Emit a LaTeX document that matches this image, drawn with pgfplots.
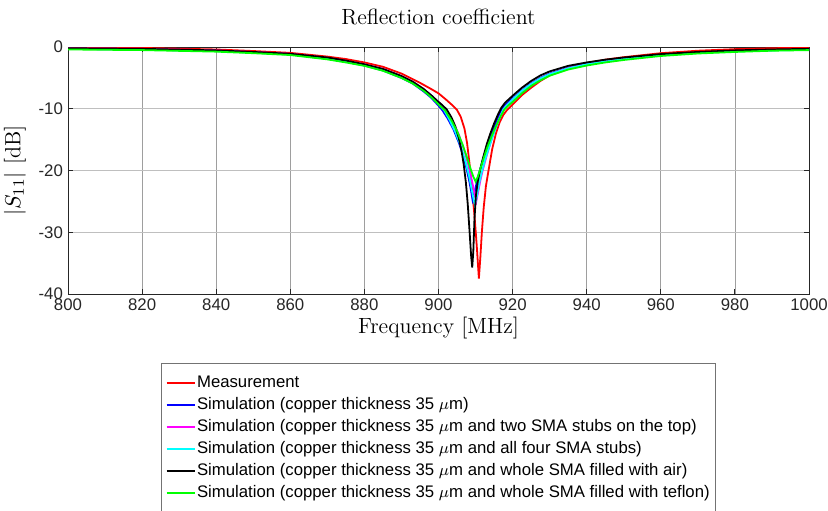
\documentclass[border=0pt]{standalone}
\usepackage{fontspec}
\usepackage{pgfplots}
\pgfplotsset{compat=1.18}
\newfontfamily\arial{Liberation Sans}
\definecolor{axgray}{RGB}{38,38,38}
\begin{document}
\begin{tikzpicture}
\begin{axis}[
  at={(0,0)}, anchor=south west,
  scale only axis, width=370.5pt, height=123.5pt,
  xmin=800, xmax=1000, ymin=-40, ymax=0,
  xtick={800,820,840,860,880,900,920,940,960,980,1000},
  ytick={-40,-30,-20,-10,0},
  xticklabels={800,820,840,860,880,900,920,940,960,980,1000},
  yticklabels={-40,-30,-20,-10,0},
  ticklabel style={font=\arial\fontsize{8.4}{10}\selectfont, text=axgray},
  xticklabel style={yshift=1pt},
  yticklabel style={xshift=1pt},
  axis line style={draw=axgray, line width=0.5pt},
  tick style={draw=axgray, line width=0.5pt},
  tick align=inside, major tick length=2.5pt,
  xmajorgrids, ymajorgrids,
  x grid style={black!38, line width=0.4pt},
  y grid style={black!25, line width=0.4pt},
  title={Reflection coefficient},
  title style={font=\fontsize{11}{13}\selectfont, at={(axis description cs:0.5,1)}, anchor=base, yshift=5.5pt},
  xlabel={Frequency $[\mathrm{MHz}]$},
  xlabel style={font=\fontsize{11}{13}\selectfont, at={(axis description cs:0.5,0)}, anchor=base, yshift=-19.5pt},
  ylabel={$|S_{11}|$ $[\mathrm{dB}]$},
  ylabel style={font=\fontsize{11}{13}\selectfont, at={(axis description cs:-0.0715,0.5)}, anchor=center},
  legend style={at={(axis description cs:0.5,-0.2794)}, anchor=north,
    draw=black!55, line width=0.5pt, fill=white,
    font=\arial\fontsize{8.37}{10}\selectfont,
    inner xsep=1.9pt, inner ysep=4.3pt, row sep=0pt,
    nodes={inner xsep=0.75pt, inner ysep=1.6pt, text height=6.1pt, text depth=1.7pt}},
  legend cell align=left,
  legend image code/.code={\draw[#1, line width=0.9pt] (0pt,0pt) -- (14pt,0pt);},
  every axis plot/.append style={line width=0.9pt},
]
% Measurement
\addplot[color={rgb,255:red,255;green,0;blue,0}] coordinates {
(800,-0.05) (820,-0.15) (840,-0.4) (850,-0.65) (860,-0.95) (870,-1.55) (875,-1.95) (880,-2.5) (885,-3.2) (890,-4.3) (895,-5.8) (898,-6.8) (900,-7.5) (902,-8.5) (903.5,-9.3) (905,-10.2) (906,-11.3) (907,-13.2) (907.7,-15.5) (908.3,-18.5) (908.8,-21.5) (909.3,-24.5) (909.8,-28) (910.3,-32) (910.9,-37.5) (911.3,-34) (911.7,-30) (912.2,-26) (912.8,-22.5) (913.5,-20) (914.5,-16.5) (915.5,-14) (916.5,-12.2) (917.5,-11.0) (918.5,-10.2) (920,-9.3) (922.5,-7.8) (925,-6.6) (927.5,-5.5) (930,-4.6) (935,-3.4) (940,-2.6) (945,-2.05) (950,-1.65) (960,-1.0) (970,-0.6) (980,-0.35) (990,-0.2) (1000,-0.1)
};
\addlegendentry{Measurement}
% Simulation 35 um
\addplot[color={rgb,255:red,0;green,0;blue,255}] coordinates {
(800,-0.3) (820,-0.4) (840,-0.65) (850,-0.9) (860,-1.2) (870,-1.9) (875,-2.4) (880,-3.0) (885,-3.8) (890,-5.0) (893,-5.9) (896,-7.2) (898,-8.2) (900,-9.5) (901,-10.2) (902.5,-11.6) (904,-13.3) (905.5,-15.5) (906.5,-17.3) (907.5,-19.5) (908.3,-21.7) (908.8,-23.3) (909.2,-24.8) (909.7,-23.6) (910.3,-22.0) (911,-20.3) (912,-18.2) (913,-16.3) (914,-14.6) (915,-13.0) (916,-11.5) (917,-10.2) (918,-9.4) (920,-8.3) (922.5,-7.0) (925,-5.9) (927.5,-5.0) (930,-4.3) (935,-3.35) (940,-2.75) (945,-2.25) (950,-1.9) (960,-1.3) (970,-0.9) (980,-0.65) (990,-0.5) (1000,-0.4)
};
\addlegendentry{Simulation (copper thickness 35 $\mu$m)}
% two SMA stubs
\addplot[color={rgb,255:red,255;green,0;blue,255}] coordinates {
(800,-0.2) (820,-0.3) (840,-0.55) (850,-0.8) (860,-1.1) (870,-1.75) (875,-2.25) (880,-2.8) (885,-3.55) (890,-4.7) (893,-5.6) (896,-6.8) (898,-7.8) (900,-8.9) (902.3,-10.3) (904,-12.2) (905.5,-14.2) (907,-16.8) (908,-19.0) (909,-21.6) (909.7,-23.6) (910.2,-25.0) (910.7,-23.5) (911.3,-21.6) (912,-19.8) (913,-17.6) (914,-15.6) (915,-13.8) (916,-12.2) (917,-10.8) (918,-9.7) (920,-8.5) (922.5,-7.1) (925,-6.0) (927.5,-5.1) (930,-4.4) (935,-3.4) (940,-2.8) (945,-2.3) (950,-1.9) (960,-1.3) (970,-0.9) (980,-0.65) (990,-0.5) (1000,-0.4)
};
\addlegendentry{Simulation (copper thickness 35 $\mu$m and two SMA stubs on the top)}
% four SMA stubs
\addplot[color={rgb,255:red,0;green,255;blue,255}] coordinates {
(800,-0.3) (820,-0.4) (840,-0.65) (850,-0.9) (860,-1.2) (870,-1.9) (875,-2.4) (880,-2.95) (885,-3.75) (890,-4.9) (893,-5.8) (896,-7.0) (898,-8.0) (900,-9.2) (901.5,-10.2) (903,-11.8) (904.5,-13.7) (906,-16.0) (907.3,-18.6) (908.3,-21.0) (909.1,-23.5) (909.8,-25.6) (910.4,-24.0) (911,-22.0) (911.7,-20.2) (912.5,-18.4) (913.5,-16.5) (914.5,-14.7) (915.5,-13.0) (916.5,-11.5) (917.5,-10.1) (918.5,-9.4) (920,-8.5) (922.5,-7.1) (925,-6.0) (927.5,-5.1) (930,-4.4) (935,-3.45) (940,-2.8) (945,-2.35) (950,-1.95) (960,-1.35) (970,-0.95) (980,-0.7) (990,-0.55) (1000,-0.45)
};
\addlegendentry{Simulation (copper thickness 35 $\mu$m and all four SMA stubs)}
% air
\addplot[color=black] coordinates {
(800,-0.2) (820,-0.3) (840,-0.55) (850,-0.8) (860,-1.1) (870,-1.7) (875,-2.2) (880,-2.8) (885,-3.55) (890,-4.7) (893,-5.6) (896,-6.8) (898,-7.8) (900,-8.9) (901,-9.4) (902.2,-10.1) (903.5,-11.4) (904.5,-12.8) (905.5,-14.8) (906.2,-16.8) (906.8,-19.0) (907.4,-22.0) (907.9,-25.5) (908.4,-30.0) (908.8,-33.8) (909.1,-35.7) (909.4,-33.0) (909.7,-28.0) (910.1,-24.0) (910.6,-21.8) (911.2,-20.0) (912,-18.0) (913,-15.8) (914,-14.0) (915,-12.4) (916,-11.0) (917,-9.8) (918,-9.0) (920,-7.9) (922.5,-6.6) (925,-5.5) (927.5,-4.6) (930,-3.95) (935,-3.05) (940,-2.5) (945,-2.05) (950,-1.7) (960,-1.15) (970,-0.8) (980,-0.55) (990,-0.4) (1000,-0.3)
};
\addlegendentry{Simulation (copper thickness 35 $\mu$m and whole SMA filled with air)}
% teflon
\addplot[color={rgb,255:red,0;green,255;blue,0}] coordinates {
(800,-0.4) (820,-0.5) (840,-0.75) (850,-1.0) (860,-1.3) (870,-2.0) (875,-2.5) (880,-3.05) (885,-3.85) (890,-5.0) (893,-5.9) (896,-7.1) (898,-8.1) (900,-9.3) (901.8,-10.3) (903.5,-11.9) (905,-13.6) (906.5,-15.8) (907.7,-17.9) (908.7,-19.8) (909.4,-21.0) (910,-21.8) (910.6,-21.0) (911.3,-19.7) (912.2,-18.0) (913.2,-16.2) (914.3,-14.5) (915.5,-12.8) (916.7,-11.3) (917.8,-10.1) (919,-9.4) (920,-8.9) (922.5,-7.5) (925,-6.3) (927.5,-5.4) (930,-4.65) (935,-3.65) (940,-3.0) (945,-2.5) (950,-2.1) (960,-1.45) (970,-1.05) (980,-0.8) (990,-0.6) (1000,-0.5)
};
\addlegendentry{Simulation (copper thickness 35 $\mu$m and whole SMA filled with teflon)}
\end{axis}
\pgfresetboundingbox
\path (-34pt,-108pt) rectangle (380pt,147pt);
\end{tikzpicture}
\end{document}
